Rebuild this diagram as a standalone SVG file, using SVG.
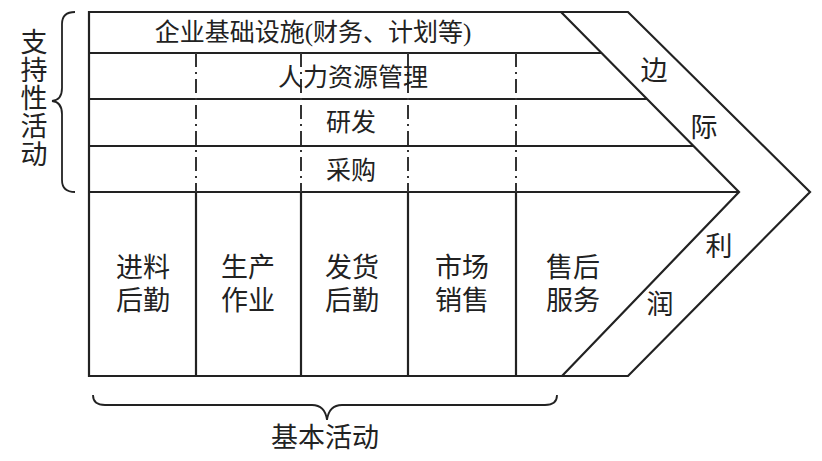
<svg xmlns="http://www.w3.org/2000/svg" width="822" height="461" viewBox="0 0 822 461">
<style>
.l{stroke:#222;stroke-width:2.2;fill:none}
.d{stroke:#333;stroke-width:2;stroke-dasharray:14 5 2 5;fill:none}
.b{stroke:#222;stroke-width:1.8;fill:none}
text{font-family:"Liberation Serif","Noto Sans CJK SC",serif;fill:#222;text-anchor:middle}
.t{font-size:25px}
.p{font-size:27px}
</style>
<rect width="822" height="461" fill="#fff"/>
<g id="connectors">
<path class="l" d="M89 12 H628 L810 192 L628 376 H89 Z"/>
<path class="l" d="M561 12 L739 192 L562 376"/>
<path class="l" d="M89 53 H602 M89 99 H647 M89 146 H693 M89 192 H739"/>
<path class="l" d="M196 192 V376 M301 192 V376 M408 192 V376 M516 192 V376"/>
<path class="d" d="M196 53 V192 M301 53 V192 M408 53 V192 M516 53 V192"/>
<path class="b" d="M75 12 Q62 12 62 24 V88 Q62 100 52 101 Q62 102 62 114 V180 Q62 192 75 192"/>
<path class="b" d="M93 395 Q93 405 105 405 H312 Q325 405 327 420 Q329 405 342 405 H545 Q557 405 557 395"/>
</g>
<g id="support">
<text class="t" x="313" y="41">企业基础设施(财务、计划等)</text>
<text class="t" x="353" y="86">人力资源管理</text>
<text class="t" x="351" y="131">研发</text>
<text class="t" x="351" y="179">采购</text>
</g>
<g id="primary">
<text class="p" x="143" y="277">进料</text><text class="p" x="143" y="310">后勤</text>
<text class="p" x="248" y="277">生产</text><text class="p" x="248" y="310">作业</text>
<text class="p" x="352" y="277">发货</text><text class="p" x="352" y="310">后勤</text>
<text class="p" x="462" y="277">市场</text><text class="p" x="462" y="310">销售</text>
<text class="p" x="573" y="277">售后</text><text class="p" x="573" y="310">服务</text>
</g>
<g id="margin">
<text class="p" x="654" y="80">边</text>
<text class="p" x="704" y="137">际</text>
<text class="p" x="719" y="256">利</text>
<text class="p" x="660" y="314">润</text>
</g>
<g id="labels">
<text class="p" x="34" y="52">支</text>
<text class="p" x="34" y="80">持</text>
<text class="p" x="34" y="108">性</text>
<text class="p" x="34" y="136">活</text>
<text class="p" x="34" y="164">动</text>
<text class="p" x="325" y="447">基本活动</text>
</g>
</svg>
